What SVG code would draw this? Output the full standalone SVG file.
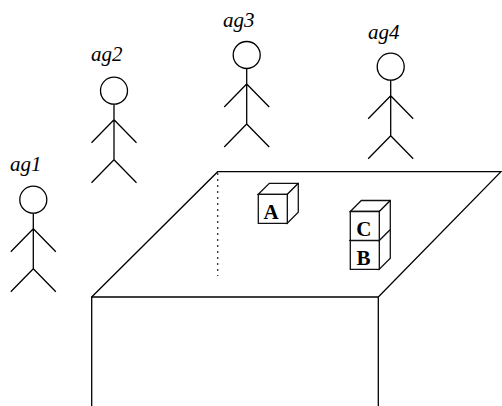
<svg xmlns="http://www.w3.org/2000/svg" xmlns:xlink="http://www.w3.org/1999/xlink" width="502" height="406" viewBox="0 0 502 406">
  <style>
    .ln { fill: none; stroke: #000; stroke-width: 1.3; }
    .dot { fill: none; stroke: #333; stroke-width: 1.3; stroke-dasharray: 2 4; }
    .face { fill: #fff; stroke: #111; stroke-width: 1.3; stroke-linejoin: miter; }
    .lbl { font-family: "Liberation Serif", "Times New Roman", serif; font-style: italic; font-size: 21px; fill: #000; }
    .blk { font-family: "Liberation Serif", "Times New Roman", serif; font-weight: bold; font-size: 21px; fill: #000; text-anchor: middle; }
  </style>
  <defs>
    <!-- stick figure, origin at the centre of the head -->
    <g id="stick" class="ln">
      <circle cx="0" cy="0" r="13.5"/>
      <path d="M0 13.5V69M0 29L-22.5 52M0 29L22.5 52M0 69L-22.5 92M0 69L22.5 92"/>
    </g>
    <!-- cube: 29px front face with an (11,-11) receding top and side -->
    <g id="cube">
      <path class="face" d="M0 0L11 -11H40V18L29 29V0Z"/>
      <path class="face" d="M0 0H29V29H0Z"/>
      <path class="ln" d="M29 0L40 -11"/>
    </g>
  </defs>

  <!-- table -->
  <g id="table">
    <path class="ln" d="M91.7 406V297H378.3V406"/>
    <path class="ln" d="M91.7 297L217.7 171.7H501L378.3 297"/>
    <path class="dot" d="M217.7 173V276"/>
  </g>

  <!-- agents -->
  <g id="ag1">
    <text class="lbl" x="10" y="170.7">ag1</text>
    <use xlink:href="#stick" x="33.3" y="199.7"/>
  </g>
  <g id="ag2">
    <text class="lbl" x="91" y="60.7">ag2</text>
    <use xlink:href="#stick" x="114" y="90.7"/>
  </g>
  <g id="ag3">
    <text class="lbl" x="223" y="26.7">ag3</text>
    <use xlink:href="#stick" x="246.7" y="55"/>
  </g>
  <g id="ag4">
    <text class="lbl" x="368" y="39">ag4</text>
    <use xlink:href="#stick" x="390.7" y="66.7"/>
  </g>

  <!-- blocks -->
  <g id="blockA">
    <use xlink:href="#cube" x="258.3" y="194.3"/>
    <text class="blk" x="271" y="218.8">A</text>
  </g>
  <g id="blockB">
    <use xlink:href="#cube" x="350.3" y="240.3"/>
    <text class="blk" x="363.5" y="264.8">B</text>
  </g>
  <g id="blockC">
    <use xlink:href="#cube" x="350.3" y="211.5"/>
    <text class="blk" x="363.8" y="236.2">C</text>
  </g>
</svg>
